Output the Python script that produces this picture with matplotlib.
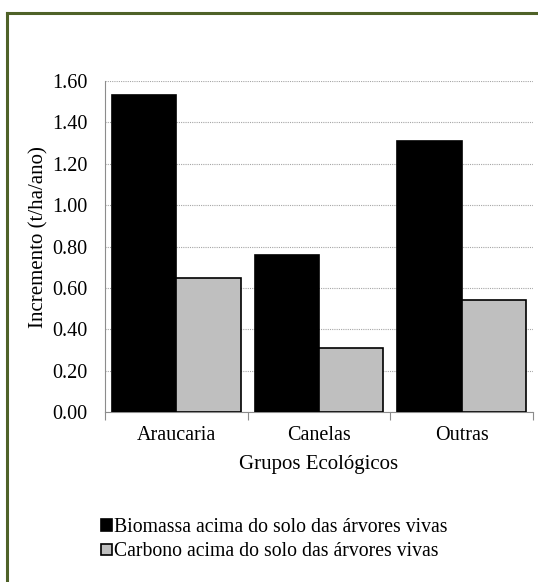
import matplotlib.pyplot as plt
import numpy as np
from matplotlib.lines import Line2D

plt.rcParams["font.family"] = ["Liberation Serif", "DejaVu Serif"]

categories = ["Araucaria", "Canelas", "Outras"]
biomassa = [1.53, 0.76, 1.31]
carbono = [0.65, 0.31, 0.54]
series_labels = [
    "Biomassa acima do solo das árvores vivas",
    "Carbono acima do solo das árvores vivas",
]

fig = plt.figure(figsize=(5.38, 5.82), dpi=100)
ax = fig.add_axes([0.1952, 0.2921, 0.7955, 0.5687])

x = np.arange(len(categories))
w = 0.45
ax.bar(x - w / 2, biomassa, w, color="black", edgecolor="black", linewidth=1.2,
       label=series_labels[0], zorder=3)
ax.bar(x + w / 2, carbono, w, color="#bfbfbf", edgecolor="black", linewidth=1.2,
       label=series_labels[1], zorder=3)

ax.set_xlim(-0.5, 2.5)
ax.set_ylim(0, 1.6)
ax.set_yticks(np.arange(0, 1.61, 0.2))
ax.set_yticklabels([f"{v:.2f}" for v in np.arange(0, 1.61, 0.2)], fontsize=14.5)
ax.yaxis.grid(True, color="#a6a6a6", linestyle=(0, (1, 1)), linewidth=0.8, zorder=0)
ax.tick_params(axis="y", length=0, pad=12.5)

ax.set_xticks(x)
ax.set_xticklabels(categories, fontsize=14.5)
ax.tick_params(axis="x", length=0, pad=10)
ax.set_xticks([-0.5, 0.5, 1.5, 2.5], minor=True)
ax.tick_params(axis="x", which="minor", length=6, color="#8c8c8c", width=0.8)

for s in ["top", "right"]:
    ax.spines[s].set_visible(False)
for s in ["left", "bottom"]:
    ax.spines[s].set_color("#8c8c8c")
    ax.spines[s].set_linewidth(0.8)

ax.set_ylabel("Incremento (t/ha/ano)", fontsize=15)
ax.yaxis.set_label_coords(-0.133, 0.528)
ax.set_xlabel("Grupos Ecológicos", fontsize=15, labelpad=7)

handles, labels = ax.get_legend_handles_labels()
fig.legend(handles, labels, loc="upper left", bbox_to_anchor=(0.17, 0.127),
           frameon=False, fontsize=14.2, handlelength=0.55, handleheight=0.55,
           handletextpad=0.1, labelspacing=0.28, borderpad=0)

# green frame lines (top and left)
fig.add_artist(Line2D([6.5 / 538, 1.0], [1 - 13 / 582, 1 - 13 / 582],
                      color="#4f6228", linewidth=2.2, transform=fig.transFigure))
fig.add_artist(Line2D([6.5 / 538, 6.5 / 538], [0.0, 1 - 13 / 582],
                      color="#4f6228", linewidth=2.2, transform=fig.transFigure))

fig.savefig("out.png", dpi=100)
